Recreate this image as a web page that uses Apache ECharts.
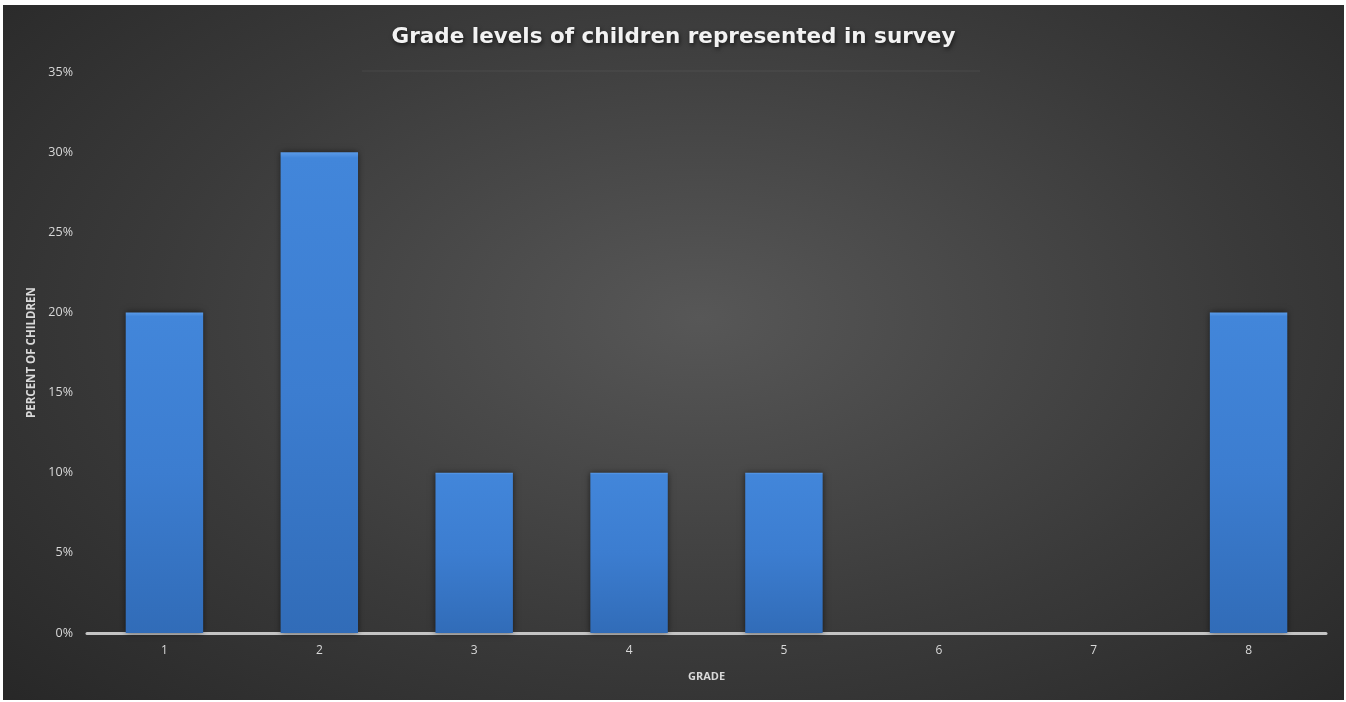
<!DOCTYPE html>
<html>
<head>
<meta charset="utf-8">
<script src="https://cdn.jsdelivr.net/npm/echarts@6/dist/echarts.min.js"></script>
<style>
html,body{margin:0;padding:0;background:#ffffff;width:1346px;height:702px;overflow:hidden;}
#chart{position:absolute;left:3px;top:5px;width:1341px;height:695px;
background:radial-gradient(ellipse 75% 85% at 52% 45%, #575757 0%, #3a3a3a 55%, #252525 100%);}
</style>
</head>
<body>
<div id="chart"></div>
<script>
const titleText = 'Grade levels of children represented in survey';
const categories = ['1','2','3','4','5','6','7','8'];
const percentValues = [20, 30, 10, 10, 10, 0, 0, 20];
const yAxisName = 'PERCENT OF CHILDREN';
const xAxisName = 'GRADE';

const chart = echarts.init(document.getElementById('chart'), null, {renderer:'canvas'});
chart.setOption({
  backgroundColor: 'transparent',
  title: {
    text: titleText,
    left: 'center',
    top: 16,
    textStyle: {
      color: '#f2f2f2',
      fontFamily: 'DejaVu Sans',
      fontWeight: 'bold',
      fontSize: 21.5,
      textShadowColor: 'rgba(0,0,0,0.6)',
      textShadowBlur: 4,
      textShadowOffsetX: 1,
      textShadowOffsetY: 2
    }
  },
  graphic: [{
    type: 'line',
    shape: {x1: 359, y1: 66, x2: 977, y2: 66},
    style: {stroke: 'rgba(255,255,255,0.07)', lineWidth: 1},
    silent: true
  }],
  grid: {left: 84, right: 18, top: 67, bottom: 67, containLabel: false},
  xAxis: {
    type: 'category',
    data: categories,
    name: xAxisName,
    nameLocation: 'middle',
    nameGap: 38,
    nameTextStyle: {color: '#d9d9d9', fontFamily: 'Open Sans', fontWeight: 'bold', fontSize: 11},
    axisLine: {lineStyle: {color: '#c4c4c4', width: 3}},
    axisTick: {show: false},
    axisLabel: {color: '#d9d9d9', fontFamily: 'Open Sans', fontSize: 12, margin: 12}
  },
  yAxis: {
    type: 'value',
    min: 0,
    max: 35,
    interval: 5,
    name: yAxisName,
    nameLocation: 'middle',
    nameGap: 48,
    nameRotate: 90,
    nameTextStyle: {color: '#d9d9d9', fontFamily: 'Open Sans', fontWeight: 'bold', fontSize: 11.5},
    axisLine: {show: false},
    axisTick: {show: false},
    splitLine: {show: false},
    axisLabel: {color: '#d9d9d9', fontFamily: 'Open Sans', fontSize: 12.5, margin: 14, formatter: '{value}%'}
  },
  series: [{
    type: 'bar',
    data: percentValues,
    barWidth: '50%',
    itemStyle: {
      color: {
        type: 'linear', x: 0, y: 0, x2: 0, y2: 1,
        colorStops: [
          {offset: 0, color: '#5b9be8'},
          {offset: 0.012, color: '#4286da'},
          {offset: 0.5, color: '#3c7dd0'},
          {offset: 1, color: '#316cb8'}
        ]
      },
      borderWidth: 0,
      shadowColor: 'rgba(0,0,0,0.55)',
      shadowBlur: 6,
      shadowOffsetX: 0,
      shadowOffsetY: 0
    },
    silent: true
  }],
  animation: false
});
</script>
</body>
</html>
